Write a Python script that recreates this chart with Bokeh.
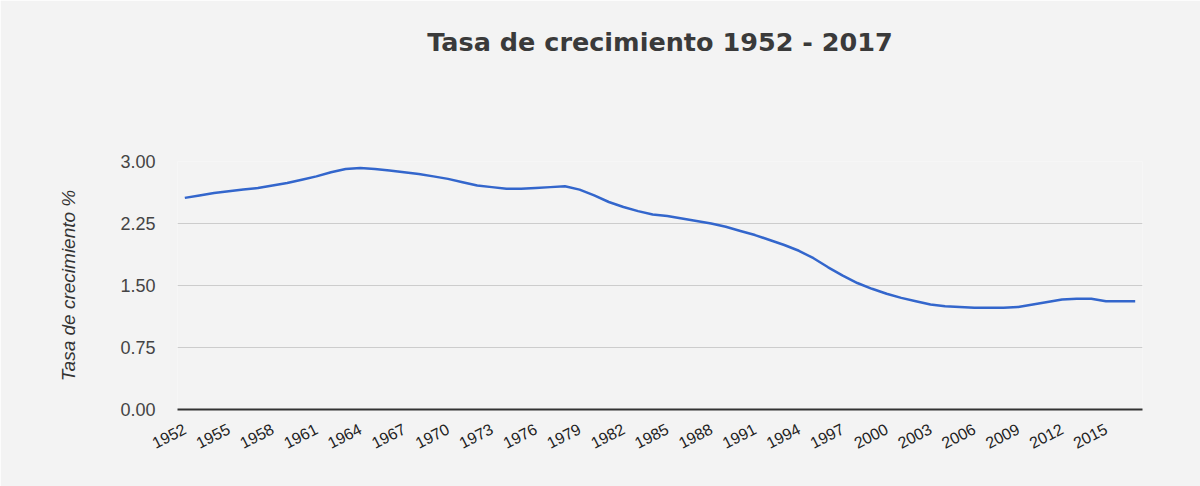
import math
from bokeh.plotting import figure
from bokeh.models import FixedTicker, Range1d, ColumnDataSource, NumeralTickFormatter, Title
from bokeh.embed import file_html
from bokeh.resources import INLINE

years = list(range(1952, 2018))
rates = [2.56, 2.59, 2.62, 2.64, 2.66, 2.68, 2.71, 2.74, 2.78, 2.82,
         2.87, 2.91, 2.92, 2.91, 2.89, 2.87, 2.85, 2.82, 2.79, 2.75,
         2.71, 2.69, 2.67, 2.67, 2.68, 2.69, 2.70, 2.66, 2.59, 2.51,
         2.45, 2.40, 2.36, 2.34, 2.31, 2.28, 2.25, 2.21, 2.16, 2.11,
         2.05, 1.99, 1.92, 1.83, 1.72, 1.62, 1.53, 1.46, 1.40, 1.35,
         1.31, 1.27, 1.25, 1.24, 1.23, 1.23, 1.23, 1.24, 1.27, 1.30,
         1.33, 1.34, 1.34, 1.31, 1.31, 1.31]
x_ticks = list(range(1952, 2016, 3))
y_ticks = [0.0, 0.75, 1.5, 2.25, 3.0]
title_text = "Tasa de crecimiento 1952 - 2017"
y_label = "Tasa de crecimiento %"

BG = "#f3f3f3"
X0, X1 = 1951.5, 2017.5
Y0, Y1 = 0.0, 3.0
p = figure(width=1200, height=486, output_backend="svg", toolbar_location=None,
           x_range=Range1d(X0, X1), y_range=Range1d(Y0, Y1),
           min_border_left=177, min_border_right=58, min_border_top=161,
           min_border_bottom=77)
p.background_fill_color = BG
p.border_fill_color = BG
p.outline_line_color = None

# spacer between the plot and the title (closest to the frame)
p.add_layout(Title(text=" ", text_font_size="2px", standoff=96), "above")
# main title
p.add_layout(Title(text=title_text, align="center", text_font="DejaVu Sans",
                   text_font_style="bold", text_font_size="25.5px",
                   text_color="#3a3a3a", standoff=10), "above")

src = ColumnDataSource(dict(x=years, y=rates))
p.line("x", "y", source=src, line_color="#3366cc", line_width=2.5)

# x axis
xa = p.xaxis[0]
xa.ticker = FixedTicker(ticks=x_ticks)
xa.major_label_orientation = math.radians(27)
xa.major_label_text_font = "Liberation Sans"
xa.major_label_text_font_size = "16px"
xa.major_label_text_color = "#222222"
xa.major_tick_line_color = None
xa.minor_tick_line_color = None
xa.axis_line_color = "#333333"
xa.axis_line_width = 2
xa.major_label_standoff = 12

# y axis
ya = p.yaxis[0]
ya.ticker = FixedTicker(ticks=y_ticks)
ya.formatter = NumeralTickFormatter(format="0.00")
ya.major_label_text_font = "Liberation Sans"
ya.major_label_text_font_size = "18px"
ya.major_label_text_color = "#444444"
ya.major_tick_line_color = None
ya.minor_tick_line_color = None
ya.axis_line_color = None
ya.major_label_standoff = 16
ya.axis_label = y_label
ya.axis_label_text_font = "Liberation Sans"
ya.axis_label_text_font_style = "italic"
ya.axis_label_text_font_size = "19px"
ya.axis_label_text_color = "#333333"
ya.axis_label_standoff = 38

p.xgrid.grid_line_color = None
p.ygrid.grid_line_color = "#cccccc"
p.ygrid.grid_line_width = 1

open("out.html", "w").write(file_html(p, INLINE))
